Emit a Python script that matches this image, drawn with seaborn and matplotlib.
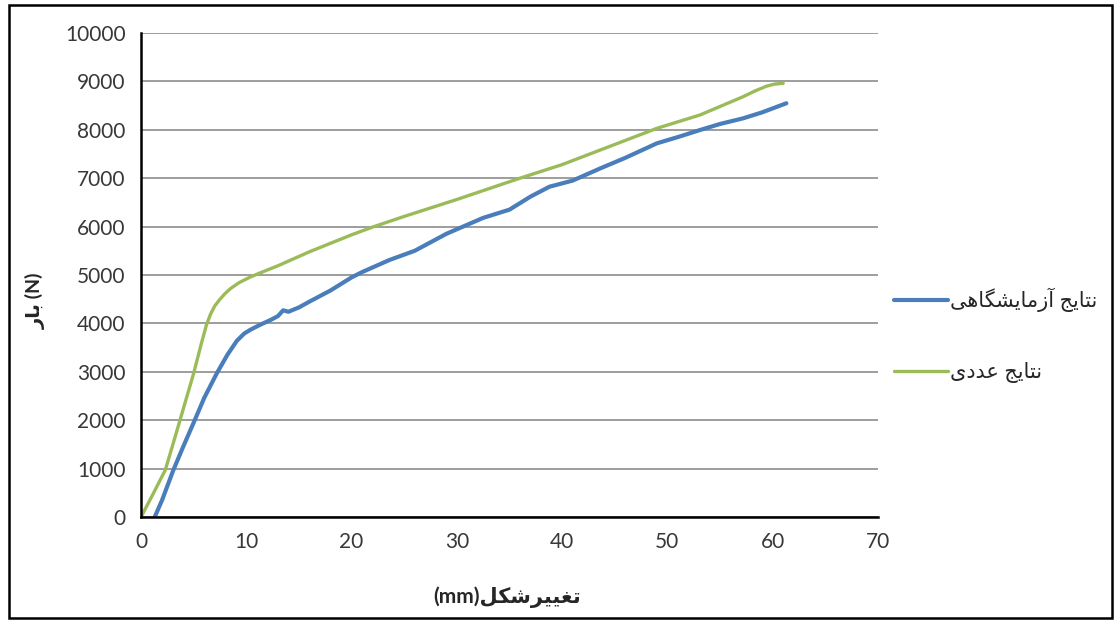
import matplotlib
matplotlib.use("Agg")
import matplotlib.pyplot as plt
from matplotlib.patches import Rectangle
import seaborn as sns
import pandas as pd

# numerical results (green)
num_x = [0, 1.2, 2.3, 3.0, 3.7, 5.0, 5.7, 6.2, 6.6, 7.0, 7.5, 8.0, 8.5, 9.3,
         10.4, 11.5, 13, 16, 20, 22, 25, 30, 36, 40, 43.6, 49, 53.1, 57.2, 58.3,
         59.4, 60.2, 61.0]
num_y = [0, 500, 970, 1480, 2000, 2970, 3560, 3960, 4190, 4360, 4500, 4620, 4720,
         4840, 4960, 5060, 5190, 5480, 5830, 5990, 6210, 6560, 7000, 7280, 7580,
         8030, 8306, 8684, 8800, 8900, 8945, 8960]

# laboratory results (blue)
lab_x = [1.3, 2, 3.07, 4, 5.1, 6, 7.2, 8.2, 9.1, 9.8, 10.4, 11.3, 12.3, 13.0,
         13.5, 14, 15, 16, 18, 20, 21, 23.6, 26, 29, 32.5, 35, 37, 38.8, 41,
         43.6, 46, 49, 51, 53.1, 55, 57.2, 59, 61.3]
lab_y = [0, 350, 970, 1450, 2000, 2460, 2970, 3350, 3640, 3790, 3870, 3970, 4070,
         4150, 4270, 4240, 4330, 4450, 4680, 4950, 5060, 5310, 5500, 5850, 6180,
         6350, 6620, 6824, 6950, 7200, 7420, 7720, 7850, 7995, 8120, 8237, 8360, 8548]

x_ticks = list(range(0, 71, 10))
y_ticks = list(range(0, 10001, 1000))

lab_name = "نتایج آزمایشگاهی"
num_name = "نتایج عددی"
x_word = "تغییرشکل"
y_word = "بار"

# matplotlib 3.10 has no Arabic shaping, so pick presentation forms by hand
FORMS = {
    'ا': ('\uFE8D', '\uFE8E', None, None),
    'آ': ('\uFE81', '\uFE82', None, None),
    'ب': ('\uFE8F', '\uFE90', '\uFE91', '\uFE92'),
    'ت': ('\uFE95', '\uFE96', '\uFE97', '\uFE98'),
    'ج': ('\uFE9D', '\uFE9E', '\uFE9F', '\uFEA0'),
    'د': ('\uFEA9', '\uFEAA', None, None),
    'ر': ('\uFEAD', '\uFEAE', None, None),
    'ز': ('\uFEAF', '\uFEB0', None, None),
    'ش': ('\uFEB5', '\uFEB6', '\uFEB7', '\uFEB8'),
    'ع': ('\uFEC9', '\uFECA', '\uFECB', '\uFECC'),
    'غ': ('\uFECD', '\uFECE', '\uFECF', '\uFED0'),
    'ک': ('\uFB8E', '\uFB8F', '\uFB90', '\uFB91'),
    'گ': ('\uFB92', '\uFB93', '\uFB94', '\uFB95'),
    'ل': ('\uFEDD', '\uFEDE', '\uFEDF', '\uFEE0'),
    'م': ('\uFEE1', '\uFEE2', '\uFEE3', '\uFEE4'),
    'ن': ('\uFEE5', '\uFEE6', '\uFEE7', '\uFEE8'),
    'ه': ('\uFEE9', '\uFEEA', '\uFEEB', '\uFEEC'),
    'ی': ('\uFBFC', '\uFBFD', '\uFBFE', '\uFBFF'),
}


def shape(text):
    """Return Persian text in visual (left-to-right) order with joined forms."""
    out = []
    for i, c in enumerate(text):
        if c not in FORMS:
            out.append(c)
            continue
        prev = text[i - 1] if i > 0 else None
        nxt = text[i + 1] if i < len(text) - 1 else None
        join_prev = prev in FORMS and FORMS[prev][2] is not None
        join_next = nxt in FORMS and FORMS[c][2] is not None
        if join_prev and join_next:
            out.append(FORMS[c][3])
        elif join_prev:
            out.append(FORMS[c][1])
        elif join_next:
            out.append(FORMS[c][2])
        else:
            out.append(FORMS[c][0])
    return "".join(reversed(out))


df_lab = pd.DataFrame({"x": lab_x, "y": lab_y})
df_num = pd.DataFrame({"x": num_x, "y": num_y})

sns.set_style("white")
plt.rcParams['font.family'] = ['Lato', 'DejaVu Sans']

fig = plt.figure(figsize=(11.15, 6.21), dpi=100)
ax = fig.add_axes([0.1265, 0.1675, 0.7874 - 0.1265, 0.9469 - 0.1675])

sns.lineplot(data=df_lab, x="x", y="y", ax=ax, sort=False, estimator=None,
             color="#4A7EBB", linewidth=3.0, label=shape(lab_name))
sns.lineplot(data=df_num, x="x", y="y", ax=ax, sort=False, estimator=None,
             color="#9BBB59", linewidth=2.4, label=shape(num_name))

ax.set_xlim(0, 70)
ax.set_ylim(0, 10000)
ax.set_xticks(x_ticks)
ax.set_yticks(y_ticks)
ax.tick_params(axis="both", labelsize=15, labelcolor="#383838", direction="out",
               length=5, width=1.8, color="black", pad=6)

ax.yaxis.grid(True, color="#8c8c8c", linewidth=1.2)
ax.xaxis.grid(False)
ax.set_axisbelow(True)

for side in ["top", "right"]:
    ax.spines[side].set_visible(False)
for side in ["left", "bottom"]:
    ax.spines[side].set_color("black")
    ax.spines[side].set_linewidth(1.8)

ax.set_xlabel("")
ax.set_ylabel("")
fig.text(0.455, 0.038, "(mm)" + shape(x_word), ha="center", va="center",
         fontsize=15, fontweight="bold")
fig.text(0.032, 0.515, shape(y_word) + " (N)", ha="center", va="center",
         rotation=90, fontsize=14, fontweight="bold")

ax.legend(loc="center left", bbox_to_anchor=(0.785, 0.46), bbox_transform=fig.transFigure,
          frameon=False, fontsize=15, handlelength=2.6, handletextpad=0.1,
          labelspacing=2.4)

fig.patches.append(Rectangle((0.008, 0.005), 0.989, 0.987, transform=fig.transFigure,
                             fill=False, edgecolor="black", linewidth=1.8))

fig.savefig("out.png", dpi=100)
